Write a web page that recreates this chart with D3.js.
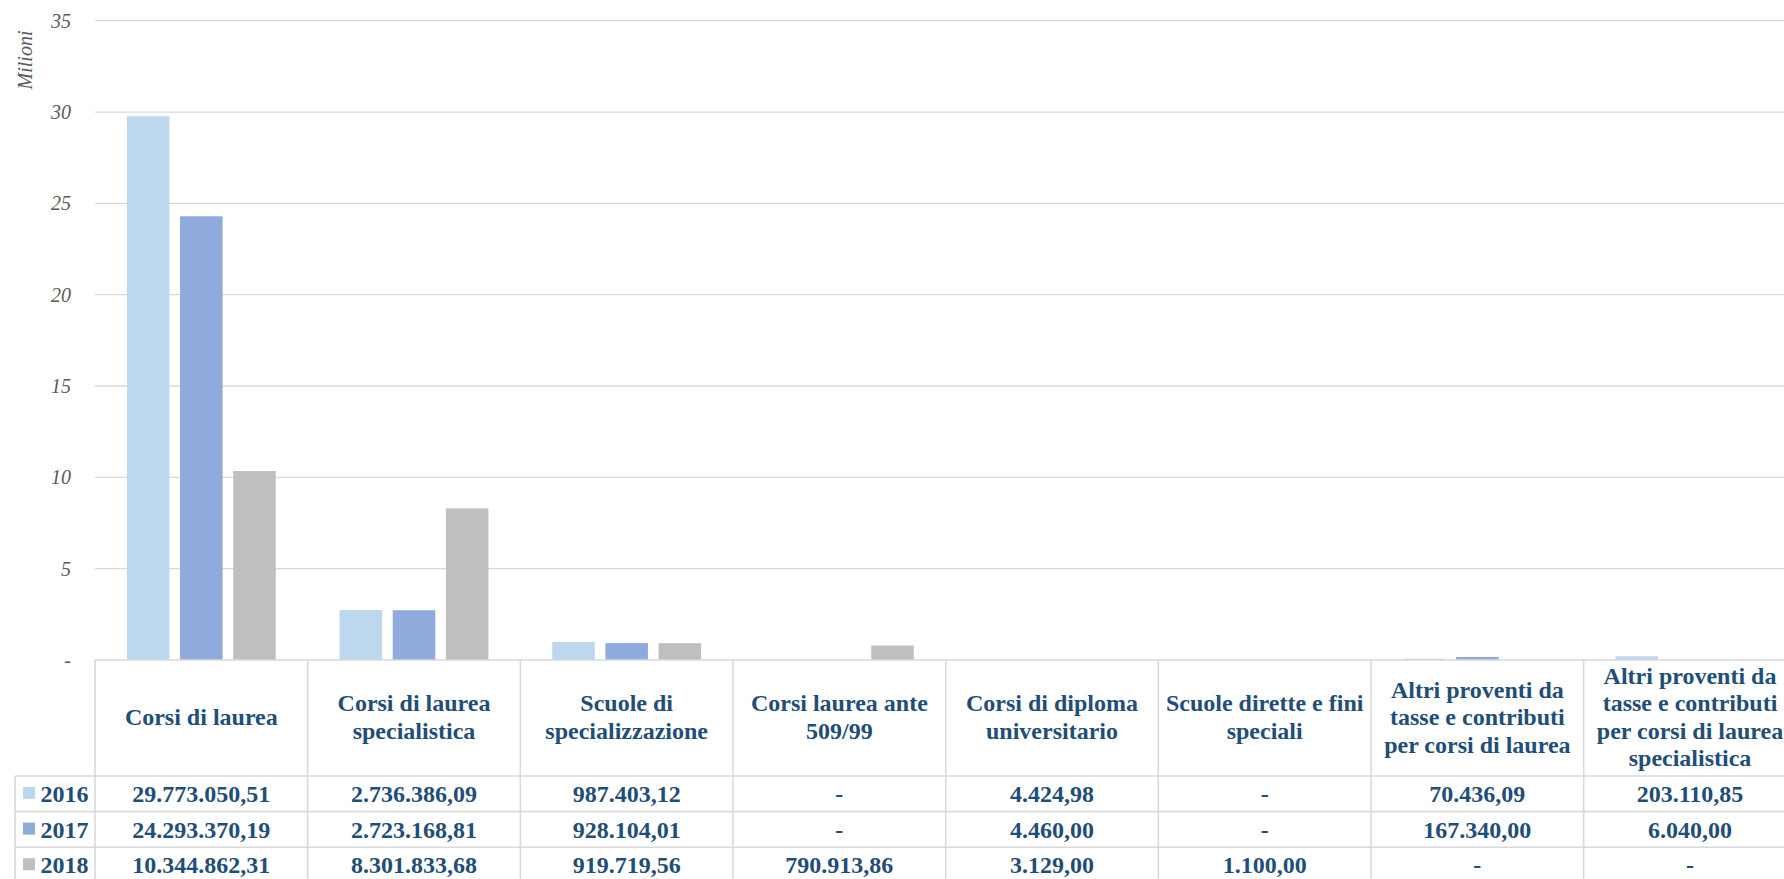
<!DOCTYPE html>
<html>
<head>
<meta charset="utf-8">
<style>
  html, body { margin: 0; padding: 0; background: #fff; overflow: hidden; }
  svg { display: block; }
</style>
<script src="https://cdn.jsdelivr.net/npm/d3@7/dist/d3.min.js"></script>
</head>
<body>
<div id="chart"></div>
<script>
// categories and series values (euro)
var categories = [
  "Corsi di laurea",
  "Corsi di laurea specialistica",
  "Scuole di specializzazione",
  "Corsi laurea ante 509/99",
  "Corsi di diploma universitario",
  "Scuole dirette e fini speciali",
  "Altri proventi da tasse e contributi per corsi di laurea",
  "Altri proventi da tasse e contributi per corsi di laurea specialistica"
];
var years = ["2016", "2017", "2018"];
var values2016 = [29773050.51, 2736386.09, 987403.12, 0, 4424.98, 0, 70436.09, 203110.85];
var values2017 = [24293370.19, 2723168.81, 928104.01, 0, 4460.00, 0, 167340.00, 6040.00];
var values2018 = [10344862.31, 8301833.68, 919719.56, 790913.86, 3129.00, 1100.00, 0, 0];
var yTicks = [0, 5, 10, 15, 20, 25, 30, 35];
var colors = ["#BDD7EE", "#8FAADC", "#BFBFBF"];

var series = [values2016, values2017, values2018];

var W = 1784, H = 879;
var plotLeft = 95, colW = 212.67;
var baseY = 660, topY = 20.7;
var headerBottom = 776, rowH = 35.6;
var textColor = "#1F4E79";
var lineColor = "#D9D9D9";
var font = "'Liberation Serif', 'Times New Roman', serif";

var svg = d3.select("#chart")
  .append("svg")
  .attr("width", W)
  .attr("height", H);

// scales
var x0 = d3.scaleBand()
  .domain(categories)
  .range([plotLeft, plotLeft + colW * categories.length])
  .paddingInner(0)
  .paddingOuter(0);

var x1 = d3.scaleBand()
  .domain(years)
  .range([0, x0.bandwidth()])
  .paddingInner(0.2)
  .paddingOuter(0.6);

var y = d3.scaleLinear()
  .domain([0, 35])
  .range([baseY, topY]);

// gridlines
svg.append("g")
  .selectAll("line")
  .data(yTicks.filter(function(d) { return d > 0; }))
  .enter()
  .append("line")
  .attr("x1", plotLeft)
  .attr("x2", W)
  .attr("y1", function(d) { return y(d); })
  .attr("y2", function(d) { return y(d); })
  .attr("stroke", lineColor)
  .attr("stroke-width", 1.3);

// y axis labels
var yAxis = d3.axisLeft(y)
  .tickValues(yTicks)
  .tickSize(0)
  .tickPadding(0)
  .tickFormat(function(d) { return d === 0 ? "-" : d; });

var yg = svg.append("g")
  .attr("transform", "translate(71,0)")
  .call(yAxis)
  .attr("font-family", font)
  .attr("font-size", 20);
yg.select(".domain").remove();
yg.selectAll("text")
  .style("font-family", font)
  .style("font-style", "italic")
  .style("font-size", "20px")
  .attr("fill", "#595959");

svg.append("text")
  .attr("transform", "translate(32,60) rotate(-90)")
  .attr("text-anchor", "middle")
  .style("font-family", font)
  .style("font-style", "italic")
  .style("font-size", "20px")
  .attr("fill", "#595959")
  .text("Milioni");

// bars
var groups = svg.append("g")
  .selectAll("g")
  .data(series)
  .enter()
  .append("g")
  .attr("fill", function(d, i) { return colors[i]; });

groups.selectAll("rect")
  .data(function(d, i) {
    return d.map(function(v, j) { return { year: years[i], cat: categories[j], value: v }; });
  })
  .enter()
  .append("rect")
  .attr("x", function(d) { return x0(d.cat) + x1(d.year); })
  .attr("width", x1.bandwidth())
  .attr("y", function(d) { return y(d.value / 1e6); })
  .attr("height", function(d) { return baseY - y(d.value / 1e6); });

// data table
var fmt = d3.formatLocale({ decimal: ",", thousands: ".", grouping: [3], currency: ["", "€"] }).format(",.2f");
var tableBottom = headerBottom + rowH * years.length;

var table = svg.append("g");

// horizontal lines
table.append("line")
  .attr("x1", plotLeft).attr("x2", W)
  .attr("y1", baseY).attr("y2", baseY)
  .attr("stroke", lineColor).attr("stroke-width", 1.6);
years.forEach(function(yr, i) {
  table.append("line")
    .attr("x1", 15).attr("x2", W)
    .attr("y1", headerBottom + rowH * i).attr("y2", headerBottom + rowH * i)
    .attr("stroke", lineColor).attr("stroke-width", 1.6);
});

// vertical lines
table.append("line")
  .attr("x1", 15).attr("x2", 15)
  .attr("y1", headerBottom).attr("y2", tableBottom)
  .attr("stroke", lineColor).attr("stroke-width", 1.6);
categories.forEach(function(c) {
  table.append("line")
    .attr("x1", x0(c)).attr("x2", x0(c))
    .attr("y1", baseY).attr("y2", tableBottom)
    .attr("stroke", lineColor).attr("stroke-width", 1.6);
});

// header texts, wrapped to the column
var maxW = 206, lineH = 27.5, headCenter = 725;
categories.forEach(function(c) {
  var t = table.append("text")
    .attr("text-anchor", "middle")
    .style("font-family", font)
    .style("font-weight", "bold")
    .style("font-size", "24px")
    .attr("fill", textColor);
  var words = c.split(" "), lines = [], cur = [];
  var probe = t.append("tspan");
  words.forEach(function(w) {
    var test = cur.concat([w]).join(" ");
    probe.text(test);
    if (cur.length && probe.node().getComputedTextLength() > maxW) {
      lines.push(cur.join(" "));
      cur = [w];
    } else {
      cur.push(w);
    }
  });
  lines.push(cur.join(" "));
  probe.remove();
  var cx = x0(c) + x0.bandwidth() / 2;
  lines.forEach(function(l, k) {
    t.append("tspan")
      .attr("x", cx)
      .attr("y", headCenter + (k - (lines.length - 1) / 2) * lineH)
      .text(l);
  });
});

// rows
series.forEach(function(vals, i) {
  var rowTop = headerBottom + rowH * i;
  table.append("rect")
    .attr("x", 23).attr("y", rowTop + 11)
    .attr("width", 12).attr("height", 12)
    .attr("fill", colors[i]);
  table.append("text")
    .attr("x", 40.5).attr("y", rowTop + 26)
    .style("font-family", font)
    .style("font-weight", "bold")
    .style("font-size", "24px")
    .attr("fill", textColor)
    .text(years[i]);
  vals.forEach(function(v, j) {
    table.append("text")
      .attr("x", x0(categories[j]) + x0.bandwidth() / 2)
      .attr("y", rowTop + 26)
      .attr("text-anchor", "middle")
      .style("font-family", font)
      .style("font-weight", "bold")
      .style("font-size", "24px")
      .attr("fill", textColor)
      .text(v === 0 ? "-" : fmt(v));
  });
});
</script>
</body>
</html>
